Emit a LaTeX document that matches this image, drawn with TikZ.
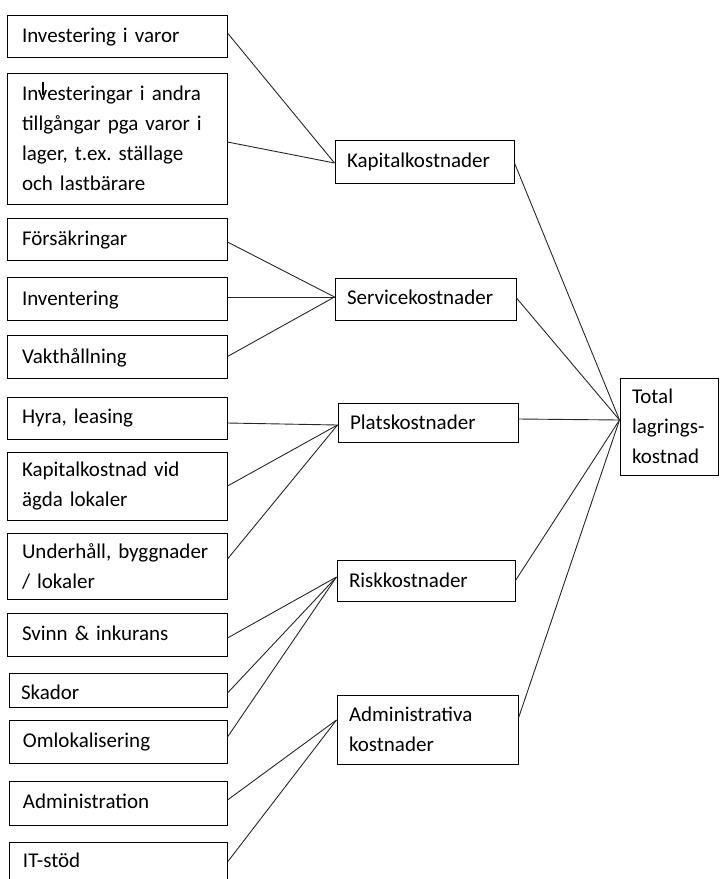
\documentclass[tikz,border=0pt]{standalone}
\usepackage{fontspec}
\setmainfont{Carlito}
\frenchspacing
\newcommand\bl[2]{\raisebox{-#1pt}[0pt][0pt]{#2}}
\begin{document}
\begin{tikzpicture}[x=1pt,y=-1pt,
  box/.style={draw=black, line width=1pt, fill=white, align=left, inner ysep=0pt, anchor=center,
    font=\fontsize{21}{30}\selectfont\frenchspacing},
  lbox/.style={box, minimum width=220pt, inner xsep=15pt, text width=190pt},
  mbox/.style={box, inner xsep=12pt},
  conn/.style={draw=black!85, line width=0.9pt}]
\useasboundingbox (0,0) rectangle (720,879);
% left column
\node[lbox, minimum height=42pt] (L1) at (117,36) {\bl{6}{Investering i varor}};
\node[lbox, minimum height=131pt] (L2) at (117,138.5) {Investeringar i andra\\tillgångar pga varor i\\lager, t.ex. ställage\\och lastbärare};
\node[lbox, minimum height=42pt] (L3) at (117,239) {\bl{6}{Försäkringar}};
\node[lbox, minimum height=43pt] (L4) at (117,298.5) {\bl{6.5}{Inventering}};
\node[lbox, minimum height=43pt] (L5) at (117,356.5) {\bl{6.5}{Vakthållning}};
\node[lbox, minimum height=42pt] (L6) at (117,418) {\bl{5}{Hyra, leasing}};
\node[lbox, minimum height=68pt] (L7) at (117,486) {Kapitalkostnad vid\\ägda lokaler};
\node[lbox, minimum height=66pt] (L8) at (117,566) {Underhåll, byggnader\\/ lokaler};
\node[lbox, minimum height=43pt] (L9) at (117,634.5) {\bl{5.5}{Svinn \& inkurans}};
\node[lbox, minimum width=218pt, minimum height=34pt, inner xsep=12pt, text width=194pt] (L10) at (118,690) {\bl{9}{Skador}};
\node[lbox, minimum width=218pt, minimum height=43pt, inner xsep=13pt] (L11) at (118,741.5) {\bl{5.5}{Omlokalisering}};
\node[lbox, minimum width=218pt, minimum height=44pt, inner xsep=13pt] (L12) at (118,803) {\bl{5}{Administration}};
\node[lbox, minimum width=218pt, minimum height=44pt, inner xsep=13pt] (L13) at (118,864) {\bl{3}{IT-stöd}};
\draw[line width=2pt] (43,82) -- (43,95);
% middle column
\node[mbox, minimum width=179pt, minimum height=43pt, text width=155pt] (M1) at (424.5,161.5) {\bl{5.5}{Kapitalkostnader}};
\node[mbox, minimum width=181pt, minimum height=42pt, text width=157pt] (M2) at (425.5,299) {\bl{5}{Servicekostnader}};
\node[mbox, minimum width=180pt, minimum height=39pt, text width=156pt] (M3) at (428,422.5) {\bl{7}{Platskostnader}};
\node[mbox, minimum width=178pt, minimum height=41pt, text width=154pt] (M4) at (426,580.5) {\bl{6.5}{Riskkostnader}};
\node[mbox, minimum width=181pt, minimum height=69pt, text width=157pt] (M5) at (427.5,729.5) {Administrativa\\kostnader};
% total
\node[mbox, minimum width=98pt, minimum height=97pt, text width=74pt] (T) at (669,426.5) {Total\\lagrings-\\kostnad};
% connectors left -> middle
\draw[conn] ([yshift=3pt]L1.east) -- ([yshift=-1.5pt]M1.west);
\draw[conn] ([yshift=-3.5pt]L2.east) -- ([yshift=-1.5pt]M1.west);
\draw[conn] ([yshift=-3pt]L3.east) -- ([yshift=2pt]M2.west);
\draw[conn] ([yshift=1.5pt]L4.east) -- ([yshift=2pt]M2.west);
\draw[conn] (L5.east) -- ([yshift=2pt]M2.west);
\draw[conn] ([yshift=-5pt]L6.east) -- ([yshift=-2.5pt]M3.west);
\draw[conn] (L7.east) -- ([yshift=-2.5pt]M3.west);
\draw[conn] ([yshift=7pt]L8.east) -- ([yshift=-2.5pt]M3.west);
\draw[conn] ([yshift=-3.5pt]L9.east) -- ([yshift=3.5pt]M4.west);
\draw[conn] ([yshift=-3pt]L10.east) -- ([yshift=3.5pt]M4.west);
\draw[conn] ([yshift=4.5pt]L11.east) -- ([yshift=3.5pt]M4.west);
\draw[conn] ([yshift=3pt]L12.east) -- ([yshift=9.5pt]M5.west);
\draw[conn] ([yshift=2pt]L13.east) -- ([yshift=9.5pt]M5.west);
% connectors middle -> total
\draw[conn] ([yshift=-1.5pt]M1.east) -- ([yshift=6.5pt]T.west);
\draw[conn] ([yshift=1pt]M2.east) -- ([yshift=6.5pt]T.west);
\draw[conn] ([yshift=3.5pt]M3.east) -- ([yshift=6.5pt]T.west);
\draw[conn] (M4.east) -- ([yshift=6.5pt]T.west);
\draw[conn] ([yshift=11.5pt]M5.east) -- ([yshift=6.5pt]T.west);
\end{tikzpicture}
\end{document}
